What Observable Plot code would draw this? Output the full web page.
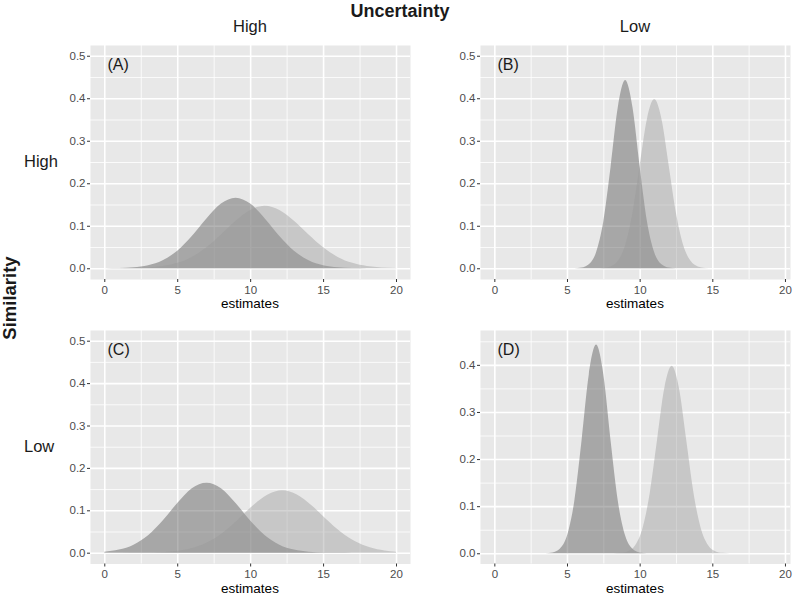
<!DOCTYPE html>
<html>
<head>
<meta charset="utf-8">
<script src="https://cdn.jsdelivr.net/npm/d3@7"></script>
<script src="https://cdn.jsdelivr.net/npm/@observablehq/plot@0.6"></script>
<style>
  html, body { margin: 0; padding: 0; background: #fff; }
  #chart { position: relative; width: 800px; height: 597px; overflow: hidden;
           font-family: "Liberation Sans", Arial, sans-serif; color: #1a1a1a; }
  #chart svg { position: absolute; left: 0; top: 0; }
  .lbl { position: absolute; white-space: nowrap; line-height: 1; }
</style>
</head>
<body>
<div id="chart"></div>
<script>
// ---- data ----
const panelLabels = ["(A)", "(B)", "(C)", "(D)"];
const colTitle = "Uncertainty";
const rowTitle = "Similarity";
const levels = ["High", "Low"];
const xAxisTitle = "estimates";

const xTicks = [0, 5, 10, 15, 20];
const xMinor = [2.5, 7.5, 12.5, 17.5];
const yTicksABC = [0, 0.1, 0.2, 0.3, 0.4, 0.5];
const yTicksD = [0, 0.1, 0.2, 0.3, 0.4];
const yMinor = [0.05, 0.15, 0.25, 0.35, 0.45];

// Panel A (High similarity, High uncertainty)
const aX = [0,1,2,3,4,5,6,7,8,9,10,11,12,13,14,15,16,17,18,19,20];
const aDarkY = [0.0002,0.0006,0.0024,0.0073,0.0190,0.0414,0.0760,0.1173,0.1522,0.1660,0.1522,0.1173,0.0760,0.0414,0.0190,0.0073,0.0024,0.0006,0.0002,0,0];
const aLightY = [0,0.0002,0.0006,0.0019,0.0052,0.0127,0.0268,0.0495,0.0797,0.1120,0.1373,0.1470,0.1373,0.1120,0.0797,0.0495,0.0268,0.0127,0.0052,0.0019,0.0006];

// Panel B (High similarity, Low uncertainty)
const bDarkX = [5.5,6,6.5,7,7.5,8,8.5,9,9.5,10,10.5,11,11.5,12,12.5];
const bDarkY = [0.0002,0.0017,0.0094,0.0375,0.1105,0.2390,0.3797,0.4430,0.3797,0.2390,0.1105,0.0375,0.0094,0.0017,0.0002];
const bLightX = [7,7.5,8,8.5,9,9.5,10,10.5,11,11.5,12,12.5,13,13.5,14,14.5,15];
const bLightY = [0.0001,0.0009,0.0044,0.0175,0.0539,0.1292,0.2414,0.3512,0.3980,0.3512,0.2414,0.1292,0.0539,0.0175,0.0044,0.0009,0.0001];

// Panel C (Low similarity, High uncertainty)
const cDarkX = [0,1,2,3,4,5,6,7,8,9,10,11,12,13,14,15,16,17,18,19,20];
const cDarkY = [0.0024,0.0073,0.0190,0.0414,0.0760,0.1173,0.1522,0.1650,0.1522,0.1173,0.0760,0.0414,0.0190,0.0073,0.0024,0.0006,0.0002,0,0,0,0];
const cLightX = [0,1.2,2.2,3.2,4.2,5.2,6.2,7.2,8.2,9.2,10.2,11.2,12.2,13.2,14.2,15.2,16.2,17.2,18.2,19.2,20];
const cLightY = [0,0,0.0002,0.0006,0.0019,0.0052,0.0127,0.0268,0.0495,0.0797,0.1120,0.1373,0.1470,0.1373,0.1120,0.0797,0.0495,0.0268,0.0127,0.0052,0.0023];

// Panel D (Low similarity, Low uncertainty)
const dDarkX = [3.5,4,4.5,5,5.5,6,6.5,7,7.5,8,8.5,9,9.5,10,10.5];
const dDarkY = [0.0002,0.0017,0.0094,0.0375,0.1105,0.2390,0.3797,0.4430,0.3797,0.2390,0.1105,0.0375,0.0094,0.0017,0.0002];
const dLightX = [8.2,8.7,9.2,9.7,10.2,10.7,11.2,11.7,12.2,12.7,13.2,13.7,14.2,14.7,15.2,15.7,16.2];
const dLightY = [0.0001,0.0009,0.0044,0.0175,0.0539,0.1292,0.2414,0.3512,0.3980,0.3512,0.2414,0.1292,0.0539,0.0175,0.0044,0.0009,0.0001];

// ---- layout ----
const W = 800, H = 597;
const FONT = '"Liberation Sans", Arial, sans-serif';
const zip = (xs, ys) => xs.map((x, i) => ({x, y: ys[i]}));

function panel({box, xRange, yDomain, yRange, yTicks, label, dark, light}) {
  const [l, t, r, b] = box;
  return Plot.plot({
    width: W, height: H,
    marginLeft: l, marginTop: t, marginRight: W - r, marginBottom: H - b,
    style: {background: "transparent", overflow: "visible", fontFamily: FONT},
    x: {domain: [-1, 21], range: xRange, label: null},
    y: {domain: yDomain, range: yRange, label: null},
    marks: [
      Plot.frame({fill: "#E8E8E8", stroke: null}),
      Plot.gridX(xMinor, {stroke: "white", strokeOpacity: 1, strokeWidth: 0.8}),
      Plot.gridY(yMinor.filter(v => v < yDomain[1]), {stroke: "white", strokeOpacity: 1, strokeWidth: 0.8}),
      Plot.gridX(xTicks, {stroke: "white", strokeOpacity: 1, strokeWidth: 1.6}),
      Plot.gridY(yTicks, {stroke: "white", strokeOpacity: 1, strokeWidth: 1.6}),
      Plot.areaY(dark, {x: "x", y: "y", fill: "#4D4D4D", fillOpacity: 0.42, curve: "monotone-x"}),
      Plot.areaY(light, {x: "x", y: "y", fill: "#999999", fillOpacity: 0.42, curve: "monotone-x"}),
      Plot.axisX(xTicks, {label: null, tickSize: 3, tickPadding: 3, fontSize: 11.5, stroke: "#333333", fill: "#4D4D4D", tickFormat: d => String(d)}),
      Plot.axisY(yTicks, {label: null, tickSize: 3, tickPadding: 2, fontSize: 11.5, stroke: "#333333", fill: "#4D4D4D", tickFormat: d3.format(".1f")}),
      Plot.text([label], {text: d => d, frameAnchor: "top-left", dx: 17, dy: 13, lineAnchor: "top", textAnchor: "start", fontSize: 16, fill: "#1a1a1a"})
    ]
  });
}

const chart = document.getElementById("chart");
const xLeft = [89.7, 410.6], xRight = [479.8, 799.5];
const boxes = {
  A: [90, 45, 410, 279], B: [480, 45, 790, 279],
  C: [90, 330, 410, 563.5], D: [480, 330, 790, 563.5]
};
chart.append(panel({box: boxes.A, xRange: xLeft, yDomain: [-0.025, 0.525], yRange: [278.9, 45.1], yTicks: yTicksABC, label: panelLabels[0], dark: zip(aX, aDarkY), light: zip(aX, aLightY)}));
chart.append(panel({box: boxes.B, xRange: xRight, yDomain: [-0.025, 0.525], yRange: [278.9, 45.1], yTicks: yTicksABC, label: panelLabels[1], dark: zip(bDarkX, bDarkY), light: zip(bLightX, bLightY)}));
chart.append(panel({box: boxes.C, xRange: xLeft, yDomain: [-0.025, 0.525], yRange: [563.3, 330.1], yTicks: yTicksABC, label: panelLabels[2], dark: zip(cDarkX, cDarkY), light: zip(cLightX, cLightY)}));
chart.append(panel({box: boxes.D, xRange: xRight, yDomain: [-0.0217, 0.474], yRange: [563.5, 330], yTicks: yTicksD, label: panelLabels[3], dark: zip(dDarkX, dDarkY), light: zip(dLightX, dLightY)}));

function addLabel(text, css) {
  const d = document.createElement("div");
  d.className = "lbl";
  d.textContent = text;
  Object.assign(d.style, css);
  chart.append(d);
  return d;
}
// column header
addLabel(colTitle, {left: "400px", top: "2px", transform: "translateX(-50%)", fontWeight: "bold", fontSize: "18px"});
addLabel(levels[0], {left: "250px", top: "18px", transform: "translateX(-50%)", fontSize: "16.5px"});
addLabel(levels[1], {left: "635px", top: "18px", transform: "translateX(-50%)", fontSize: "16.5px"});
// row header
addLabel(rowTitle, {left: "10px", top: "298px", transform: "translate(-50%,-50%) rotate(-90deg)", fontWeight: "bold", fontSize: "18.5px"});
addLabel(levels[0], {left: "24px", top: "161px", transform: "translateY(-50%)", fontSize: "16.5px"});
addLabel(levels[1], {left: "24px", top: "446px", transform: "translateY(-50%)", fontSize: "16.5px"});
// x axis titles
for (const [cx, cy] of [[250, 303.5], [635, 303.5], [250, 588.5], [635, 588.5]]) {
  addLabel(xAxisTitle, {left: cx + "px", top: cy + "px", transform: "translate(-50%,-50%)", fontSize: "13.5px", color: "#000"});
}
</script>
</body>
</html>
